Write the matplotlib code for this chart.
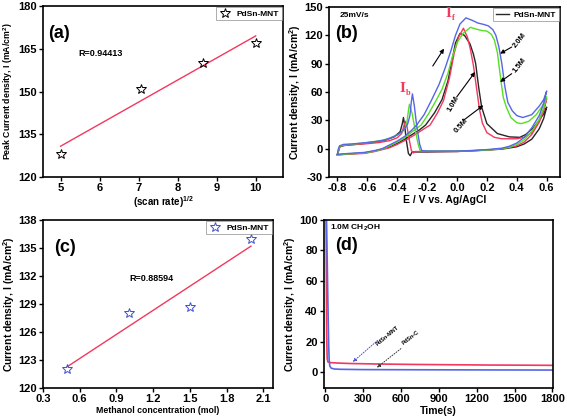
"""Четыре панели: скорость развёртки, ЦВА, концентрация метанола, хроноамперометрия."""

import matplotlib

matplotlib.use("Agg")
import matplotlib.pyplot as plt

plt.rcParams["font.family"] = ["Liberation Sans", "DejaVu Sans"]
plt.rcParams["font.weight"] = "bold"
plt.rcParams["axes.labelweight"] = "bold"
plt.rcParams["axes.unicode_minus"] = False
plt.rcParams["mathtext.fontset"] = "custom"
plt.rcParams["mathtext.rm"] = "Liberation Sans:bold"
plt.rcParams["mathtext.it"] = "Liberation Sans:bold"
plt.rcParams["mathtext.bf"] = "Liberation Sans:bold"

RED = "#f2385e"
GREEN = "#55e022"
BLUE = "#5666e6"
BLACK = "#262626"

# (a) пиковый ток от корня скорости развёртки
scan_rate_sqrt = [5.0, 7.07, 8.66, 10.0]
peak_current = [128.0, 151.0, 160.0, 167.0]
fit_a_x = [5.0, 10.0]
fit_a_y = [130.8, 169.5]

# (b) ЦВА: прямой и обратный ход, 0.5M
cv_05_E = [-0.80, -0.72, -0.62, -0.55, -0.50, -0.45, -0.40, -0.35, -0.30, -0.25, -0.21,
           -0.15, -0.10, -0.06, -0.03, -0.01, 0.02, 0.05, 0.087, 0.11, 0.125, 0.145,
           0.165, 0.20, 0.27, 0.35, 0.42, 0.46, 0.51, 0.55, 0.58, 0.60,
           0.58, 0.55, 0.50, 0.45, 0.40, 0.30, 0.20, 0.00, -0.20, -0.30, -0.313,
           -0.325, -0.34, -0.35, -0.358, -0.365, -0.38, -0.42, -0.48, -0.55, -0.65,
           -0.75, -0.785, -0.80]
cv_05_I = [-6.5, -5.5, -4.5, -2.5, -0.5, 2.0, 5.5, 10.0, 15.0, 20.0, 25.0,
           38.0, 52.0, 72.0, 96.0, 112.0, 122.0, 120.0, 111.0, 100.0, 90.0, 65.0,
           44.0, 26.5, 16.0, 12.5, 12.0, 15.0, 22.0, 30.0, 37.0, 44.0,
           32.0, 21.0, 10.0, 5.0, 2.0, -0.5, -1.5, -3.0, -3.5, -3.5, -7.5,
           -5.0, 10.0, 25.0, 33.0, 27.0, 18.0, 12.5, 9.0, 7.0, 5.0,
           3.5, 2.0, -6.5]

# 1.0M
cv_10_E = [-0.80, -0.72, -0.62, -0.55, -0.50, -0.45, -0.40, -0.35, -0.30, -0.25, -0.18,
           -0.13, -0.09, -0.05, -0.02, 0.01, 0.043, 0.07, 0.09, 0.11, 0.13, 0.15,
           0.17, 0.20, 0.25, 0.30, 0.40, 0.45, 0.50, 0.55, 0.58, 0.60,
           0.58, 0.55, 0.50, 0.45, 0.40, 0.30, 0.20, 0.00, -0.20, -0.28, -0.291,
           -0.305, -0.32, -0.335, -0.345, -0.355, -0.37, -0.40, -0.45, -0.52, -0.62,
           -0.72, -0.78, -0.80]
cv_10_I = [-6.5, -5.8, -5.0, -3.0, -1.0, 1.0, 4.5, 8.5, 13.0, 18.0, 25.0,
           38.0, 51.0, 75.0, 100.0, 118.0, 127.5, 118.0, 105.0, 88.0, 65.0, 42.0,
           27.0, 17.0, 12.0, 10.5, 10.5, 12.0, 17.0, 30.0, 42.0, 53.0,
           40.0, 28.0, 15.0, 7.0, 3.0, 0.0, -1.5, -3.0, -3.0, -3.0, -4.5,
           -2.0, 10.0, 24.0, 29.0, 24.0, 16.0, 11.5, 8.5, 6.5, 5.0,
           4.0, 3.0, -6.5]

# 1.5M
cv_15_E = [-0.80, -0.72, -0.62, -0.55, -0.50, -0.45, -0.40, -0.35, -0.30, -0.24, -0.19,
           -0.14, -0.10, -0.06, -0.03, 0.00, 0.04, 0.09, 0.13, 0.17, 0.20, 0.23,
           0.25, 0.27, 0.285, 0.30, 0.31, 0.33, 0.36, 0.40, 0.43, 0.48, 0.53, 0.57, 0.60,
           0.58, 0.55, 0.50, 0.45, 0.40, 0.35, 0.30, 0.20, 0.00, -0.20, -0.247,
           -0.26, -0.28, -0.30, -0.318, -0.325, -0.335, -0.35, -0.38, -0.42, -0.47,
           -0.55, -0.65, -0.75, -0.785, -0.80]
cv_15_I = [-6.5, -5.5, -4.5, -2.5, -0.5, 3.0, 7.0, 11.5, 18.0, 25.0, 37.0,
           51.0, 63.0, 80.0, 98.0, 112.0, 122.0, 128.5, 126.5, 125.0, 124.5, 121.0,
           115.0, 102.0, 83.0, 65.0, 54.0, 44.0, 33.0, 27.5, 26.5, 29.0, 36.0, 45.0, 55.0,
           43.0, 31.0, 18.0, 9.5, 4.5, 1.5, 0.0, -1.5, -2.5, -2.5, -2.0,
           5.0, 20.0, 37.0, 47.0, 40.0, 28.0, 21.0, 16.0, 13.0, 10.0,
           7.5, 5.5, 4.0, 2.5, -6.5]

# 2.0M
cv_20_E = [-0.80, -0.72, -0.62, -0.55, -0.50, -0.45, -0.40, -0.35, -0.30, -0.27, -0.22,
           -0.17, -0.12, -0.08, -0.04, -0.01, 0.02, 0.06, 0.10, 0.14, 0.18, 0.21,
           0.24, 0.26, 0.28, 0.30, 0.32, 0.34, 0.37, 0.40, 0.44, 0.50, 0.55, 0.58, 0.60,
           0.58, 0.55, 0.50, 0.45, 0.40, 0.35, 0.30, 0.20, 0.10, 0.00, -0.10, -0.20,
           -0.236, -0.25, -0.27, -0.285, -0.298, -0.305, -0.315, -0.33, -0.36, -0.40,
           -0.45, -0.50, -0.60, -0.70, -0.76, -0.785, -0.795, -0.80]
cv_20_I = [-6.0, -5.0, -4.0, -2.0, 0.0, 4.0, 8.0, 13.0, 20.0, 25.0, 36.0,
           51.5, 68.0, 85.0, 104.0, 120.0, 132.0, 138.5, 136.0, 133.0, 131.5, 130.0,
           126.0, 120.0, 108.0, 90.0, 66.0, 49.0, 40.0, 35.0, 33.0, 36.0, 45.0, 52.0, 61.0,
           48.0, 35.0, 22.0, 12.0, 6.0, 2.5, 0.5, -1.0, -2.0, -2.5, -2.5, -2.5,
           -2.0, 5.0, 25.0, 45.0, 58.0, 50.0, 35.0, 26.0, 19.0, 14.5,
           11.0, 8.5, 6.5, 5.0, 4.5, 3.0, -1.0, -6.0]

# (c) ток от концентрации метанола
methanol_conc = [0.5, 1.0, 1.5, 2.0]
conc_current = [122.0, 128.0, 128.7, 136.0]
fit_c_x = [0.5, 2.0]
fit_c_y = [122.3, 135.2]

# (d) хроноамперометрия
ca_red_t = [5, 8, 10, 14, 20, 40, 100, 200, 400, 700, 1000, 1300, 1600, 1800]
ca_red_I = [110.0, 60.0, 25.0, 9.0, 6.6, 6.2, 5.9, 5.6, 5.3, 5.0, 4.8, 4.6, 4.5, 4.4]
ca_blue_t = [8, 14, 20, 26, 30, 35, 45, 70, 120, 300, 700, 1200, 1800]
ca_blue_I = [105.0, 75.0, 45.0, 18.0, 8.0, 4.0, 2.6, 2.0, 1.8, 1.6, 1.5, 1.4, 1.3]

W, H = 567, 418


def _style(ax, fs=8):
    for sp in ax.spines.values():
        sp.set_linewidth(1.2)
    ax.tick_params(direction="out", length=3, width=1.0, labelsize=fs, pad=1.5)
    for lab in ax.get_xticklabels() + ax.get_yticklabels():
        lab.set_fontweight("bold")


def _rect(left, top, right, bottom):
    return [left / W, 1 - bottom / H, (right - left) / W, (bottom - top) / H]


def _legend(ax):
    leg = ax.legend(loc="upper right", fontsize=6, frameon=True, fancybox=False,
                    edgecolor="#888888", borderpad=0.3, handlelength=1.6,
                    handletextpad=0.6, borderaxespad=0.15)
    leg.get_frame().set_linewidth(0.6)


def main() -> None:
    fig = plt.figure(figsize=(W / 100, H / 100), dpi=100)

    # (a)
    ax = fig.add_axes(_rect(43, 6, 283, 177))
    ax.plot(fit_a_x, fit_a_y, color=RED, linewidth=1.0)
    ax.plot(scan_rate_sqrt, peak_current, linestyle="none", marker="*", markersize=7,
            markerfacecolor="none", markeredgecolor="black", markeredgewidth=0.7,
            label="PdSn-MNT")
    ax.set_xlim(4.55, 10.7)
    ax.set_ylim(120, 180)
    ax.set_xticks([5, 6, 7, 8, 9, 10])
    ax.set_yticks([120, 135, 150, 165, 180])
    ax.set_xlabel("(scan rate)$^{1/2}$", fontsize=7, labelpad=1)
    ax.set_ylabel("Peak Current density, I (mA/cm$^2$)", fontsize=6.3, labelpad=2)
    ax.text(4.96, 170.4, "(a)", fontsize=13, fontweight="bold", ha="center", va="center")
    ax.text(5.46, 163.4, "R=0.94413", fontsize=6.5, fontweight="bold", va="center")
    _legend(ax)
    _style(ax)

    # (b)
    ax = fig.add_axes(_rect(329, 7, 560, 177))
    ax.plot(cv_05_E, cv_05_I, color=BLACK, linewidth=1.0, label="PdSn-MNT")
    ax.plot(cv_10_E, cv_10_I, color=RED, linewidth=1.0)
    ax.plot(cv_15_E, cv_15_I, color=GREEN, linewidth=1.0)
    ax.plot(cv_20_E, cv_20_I, color=BLUE, linewidth=1.0)
    ax.set_xlim(-0.856, 0.689)
    ax.set_ylim(-30, 150)
    ax.set_xticks([-0.8, -0.6, -0.4, -0.2, 0.0, 0.2, 0.4, 0.6])
    ax.set_yticks([-30, 0, 30, 60, 90, 120, 150])
    ax.set_xlabel("E / V vs. Ag/AgCl", fontsize=7.5, labelpad=1)
    ax.set_ylabel("Current density, I (mA/cm$^2$)", fontsize=7.5, labelpad=1)
    ax.text(-0.787, 141.2, "25mV/s", fontsize=6, fontweight="bold", va="center")
    ax.text(-0.74, 122, "(b)", fontsize=13, fontweight="bold", ha="center", va="center")
    ax.text(-0.058, 143, "I", color=RED, fontsize=11, fontweight="bold",
            family="Liberation Serif", ha="center", va="center")
    ax.text(-0.024, 138.5, "f", color=RED, fontsize=6, fontweight="bold",
            family="Liberation Serif", ha="center", va="center")
    ax.text(-0.363, 63.5, "I", color=RED, fontsize=11, fontweight="bold",
            family="Liberation Serif", ha="center", va="center")
    ax.text(-0.327, 59.0, "b", color=RED, fontsize=6, fontweight="bold",
            family="Liberation Serif", ha="center", va="center")
    arrow = dict(arrowstyle="-|>", color="black", lw=0.8, mutation_scale=6,
                 shrinkA=0, shrinkB=0)
    ax.annotate("", xy=(-0.087, 105.9), xytext=(-0.162, 87.5), arrowprops=arrow)
    ax.annotate("", xy=(0.288, 100.6), xytext=(0.366, 107.6), arrowprops=arrow)
    ax.annotate("", xy=(0.288, 70.6), xytext=(0.366, 79.4), arrowprops=arrow)
    ax.annotate("", xy=(0.121, 81.2), xytext=(-0.002, 54.7), arrowprops=arrow)
    ax.annotate("", xy=(0.176, 45.9), xytext=(0.043, 30.0), arrowprops=arrow)
    ax.text(0.422, 114.7, "2.0M", fontsize=5.5, fontweight="bold", rotation=52,
            ha="center", va="center")
    ax.text(0.422, 88.2, "1.5M", fontsize=5.5, fontweight="bold", rotation=52,
            ha="center", va="center")
    ax.text(-0.024, 47.6, "1.0M", fontsize=5.5, fontweight="bold", rotation=60,
            ha="center", va="center")
    ax.text(0.031, 24.7, "0.5M", fontsize=5.5, fontweight="bold", rotation=48,
            ha="center", va="center")
    _legend(ax)
    _style(ax)

    # (c)
    ax = fig.add_axes(_rect(43, 220, 273, 388))
    ax.plot(fit_c_x, fit_c_y, color=RED, linewidth=1.0)
    ax.plot(methanol_conc, conc_current, linestyle="none", marker="*", markersize=7,
            markerfacecolor="none", markeredgecolor="#3f4fcf", markeredgewidth=0.7,
            label="PdSn-MNT")
    ax.set_xlim(0.3, 2.18)
    ax.set_ylim(120, 138)
    ax.set_xticks([0.3, 0.6, 0.9, 1.2, 1.5, 1.8, 2.1])
    ax.set_yticks([120, 123, 126, 129, 132, 135, 138])
    ax.set_xlabel("Methanol concentration (mol)", fontsize=6.3, labelpad=1)
    ax.set_ylabel("Current density, I (mA/cm$^2$)", fontsize=7.5, labelpad=1)
    ax.text(0.477, 135.1, "(c)", fontsize=13, fontweight="bold", ha="center", va="center")
    ax.text(1.009, 131.7, "R=0.88594", fontsize=6.5, fontweight="bold", va="center")
    _legend(ax)
    _style(ax)

    # (d)
    ax = fig.add_axes(_rect(324, 220, 553, 388))
    ax.plot(ca_red_t, ca_red_I, color=RED, linewidth=1.2)
    ax.plot(ca_blue_t, ca_blue_I, color=BLUE, linewidth=1.2)
    ax.set_xlim(-11, 1805)
    ax.set_ylim(-10.5, 100)
    ax.set_xticks([0, 300, 600, 900, 1200, 1500, 1800])
    ax.set_yticks([0, 20, 40, 60, 80, 100])
    ax.set_xlabel("Time(s)", fontsize=7.5, labelpad=1)
    ax.set_ylabel("Current density, I (mA/cm$^2$)", fontsize=7.5, labelpad=1)
    ax.text(34, 94.5, "1.0M CH$_2$OH", fontsize=6, fontweight="bold", va="center")
    ax.text(167, 83, "(d)", fontsize=13, fontweight="bold", ha="center", va="center")
    ax.annotate("", xy=(201, 5.5), xytext=(431, 22),
                arrowprops=dict(arrowstyle="-|>", color="#3f4fcf", lw=0.7,
                                linestyle=":", mutation_scale=5))
    ax.annotate("", xy=(391, 1.8), xytext=(616, 16.5),
                arrowprops=dict(arrowstyle="-|>", color="#333333", lw=0.7,
                                linestyle=":", mutation_scale=5))
    ax.text(489, 23.7, "PdSn-MNT", fontsize=4, fontweight="bold", rotation=40,
            ha="center", va="center")
    ax.text(675, 22.4, "PdSn-C", fontsize=4, fontweight="bold", rotation=38,
            ha="center", va="center")
    _style(ax)

    fig.savefig("out.png", dpi=100)
    plt.close(fig)


if __name__ == "__main__":
    main()
